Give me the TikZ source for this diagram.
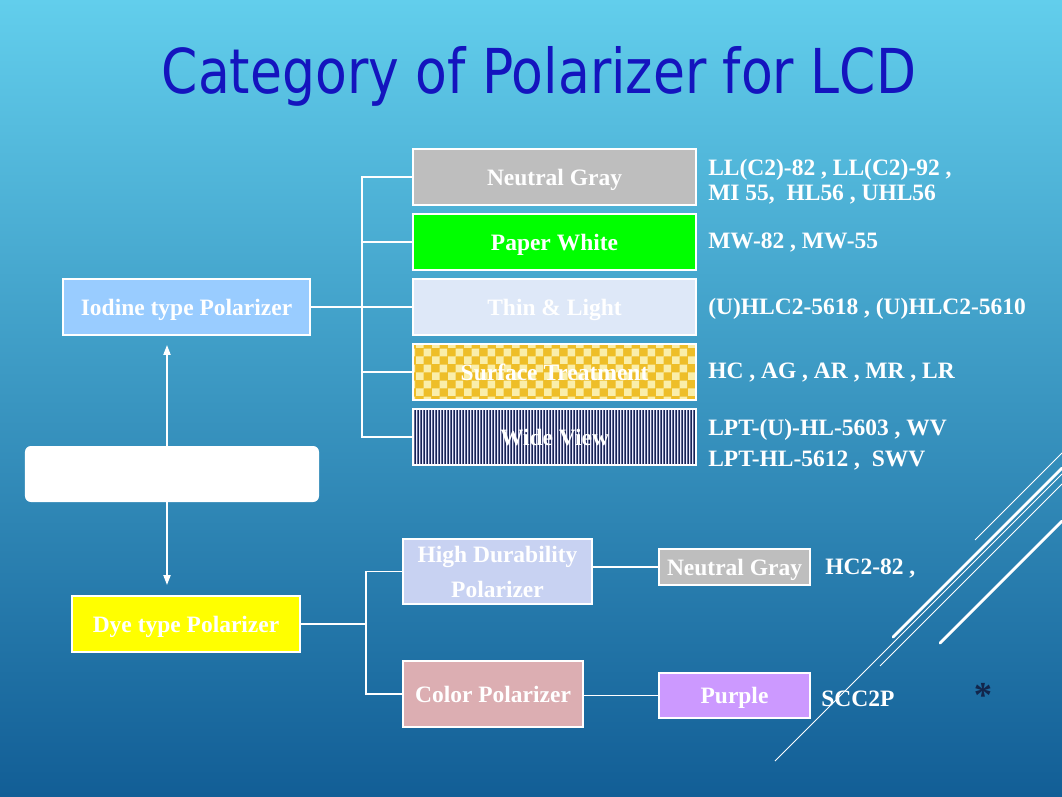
\documentclass[tikz,border=0pt]{standalone}
\usepackage{fontspec}
\setmainfont{Liberation Serif}
\newfontfamily\titlefont{DejaVu Sans}
\usetikzlibrary{arrows.meta,patterns}

\definecolor{bgtop}{RGB}{98,206,236}
\definecolor{bgmid}{RGB}{48,148,198}
\definecolor{bgbot}{RGB}{18,94,150}
\definecolor{titleblue}{RGB}{20,20,190}
\definecolor{iodblue}{RGB}{153,204,255}
\definecolor{ngray}{RGB}{190,190,190}
\definecolor{pgreen}{RGB}{0,255,0}
\definecolor{tlight}{RGB}{222,232,248}
\definecolor{storange}{RGB}{238,190,40}
\definecolor{styellow}{RGB}{250,238,170}
\definecolor{wvnavy}{RGB}{22,34,86}
\definecolor{dyeyellow}{RGB}{255,255,0}
\definecolor{hdlav}{RGB}{200,210,242}
\definecolor{cppink}{RGB}{220,174,178}
\definecolor{purp}{RGB}{204,153,255}
\definecolor{stardark}{RGB}{18,38,76}

\newcommand{\lblfont}{\fontsize{16.7}{18}\selectfont\bfseries}

% thin vertical stripes for the wide view box
\pgfdeclarepatternformonly{wvstripes}{\pgfpointorigin}{\pgfpoint{2pt}{1pt}}{\pgfpoint{2pt}{1pt}}{%
  \pgfpathrectangle{\pgfpointorigin}{\pgfpoint{1pt}{1pt}}\pgfusepath{fill}}

\begin{document}
\begin{tikzpicture}[x=0.025cm, y=-0.025cm,
    catbox/.style={draw=white, line width=0.9pt, text=white, inner sep=0pt,
      minimum height=1.4cm, font=\lblfont, align=center, text depth=0pt},
    link/.style={draw=white, line width=0.9pt},
    codes/.style={anchor=west, inner sep=0pt, text=white, font=\lblfont, align=left}]

  \useasboundingbox (0,0) rectangle (1062,796);
  \shade[top color=bgtop, middle color=bgmid, bottom color=bgbot] (0,0) rectangle (1062,796);

  % decoration lines
  \draw[white, line width=0.6pt] (775,761) -- (1062,474);
  \draw[white, line width=0.6pt] (975,540) -- (1062,453);
  \draw[white, line width=0.6pt] (880,666) -- (1062,484);
  \draw[white, line width=2pt, line cap=round] (893,637) -- (1062,468);
  \draw[white, line width=2pt, line cap=round] (940,643) -- (1062,521);

  \node[text=titleblue, font=\titlefont\fontsize{44}{50}\selectfont] (title) at (539,76)
    {\scalebox{0.84}[1]{Category of Polarizer for LCD}};

  % iodine branch
  \node[catbox, fill=iodblue, minimum width=6.175cm] (iodine) at (186.5,307) {Iodine type Polarizer};
  \node[catbox, fill=ngray, minimum width=7.075cm] (ng) at (554.5,177) {Neutral Gray};
  \node[catbox, fill=pgreen, minimum width=7.075cm] (pw) at (554.5,242) {Paper White};
  \node[catbox, fill=tlight, minimum width=7.075cm] (tl) at (554.5,307) {Thin \& Light};
  \node[catbox, preaction={fill=storange}, pattern=checkerboard, pattern color=styellow,
    minimum width=7.075cm] (st) at (554.5,372) {Surface Treatment};
  \node[catbox, preaction={fill=wvnavy}, pattern=wvstripes, pattern color=white!92!blue,
    minimum width=7.075cm] (wv) at (554.5,437) {Wide View};

  \coordinate (ibus) at (362,307);
  \draw[link] (iodine.east) -- (ibus);
  \foreach \b in {ng,pw,tl,st,wv}
    \draw[link] (\b.west) -| (ibus);

  \node[codes] (ngc) at (708,182) {LL(C2)-82 , LL(C2)-92 ,\\[0pt]MI 55,\ \ HL56 , UHL56};
  \node[codes] (pwc) at (708,243) {MW-82 , MW-55};
  \node[codes] (tlc) at (708,309) {(U)HLC2-5618 , (U)HLC2-5610};
  \node[codes] (stc) at (708,373) {HC , AG , AR , MR , LR};
  \node[codes] (wvc) at (708,445) {LPT-(U)-HL-5603 , WV\\[4pt]LPT-HL-5612 ,\ \ SWV};

  % arrow between the two types
  \coordinate (aup) at (167,345);
  \coordinate (adn) at (167,585);
  \draw[white, line width=1.2pt, {Triangle[length=7pt,width=5pt]}-{Triangle[length=7pt,width=5pt]}] (aup) -- (adn);
  \node[fill=white, rounded corners=0.15cm, minimum width=7.35cm, minimum height=1.4cm, inner sep=0pt] (mid) at (172,474) {};

  % dye branch
  \node[catbox, fill=dyeyellow, minimum width=5.7cm] (dye) at (186,624) {Dye type Polarizer};
  \node[catbox, fill=hdlav, minimum width=4.725cm, minimum height=1.625cm] (hd) at (497.5,571.5)
    {High Durability\\[7pt]Polarizer};
  \node[catbox, fill=cppink, minimum width=4.5cm, minimum height=1.65cm] (cp) at (493,694) {Color Polarizer};
  \node[catbox, fill=ngray, minimum width=3.775cm, minimum height=0.9cm] (ngs) at (734.5,567) {Neutral Gray};
  \node[catbox, fill=purp, minimum width=3.775cm, minimum height=1.125cm] (pu) at (734.5,695.5) {Purple};

  \coordinate (dbus) at (366,624);
  \draw[link] (dye.east) -- (dbus);
  \draw[link] (hd.west) -| (dbus);
  \draw[link] (cp.west) -| (dbus);
  \draw[link] (ngs.west -| hd.east) -- (ngs.west);
  \draw[link] (pu.west -| cp.east) -- (pu.west);

  \node[codes] (ngsc) at (825,568) {HC2-82 ,};
  \node[codes] (puc) at (821,699) {SCC2P};
  \node[text=stardark, font=\fontsize{26}{28}\selectfont\bfseries] (star) at (983,695) {*};

\end{tikzpicture}
\end{document}
